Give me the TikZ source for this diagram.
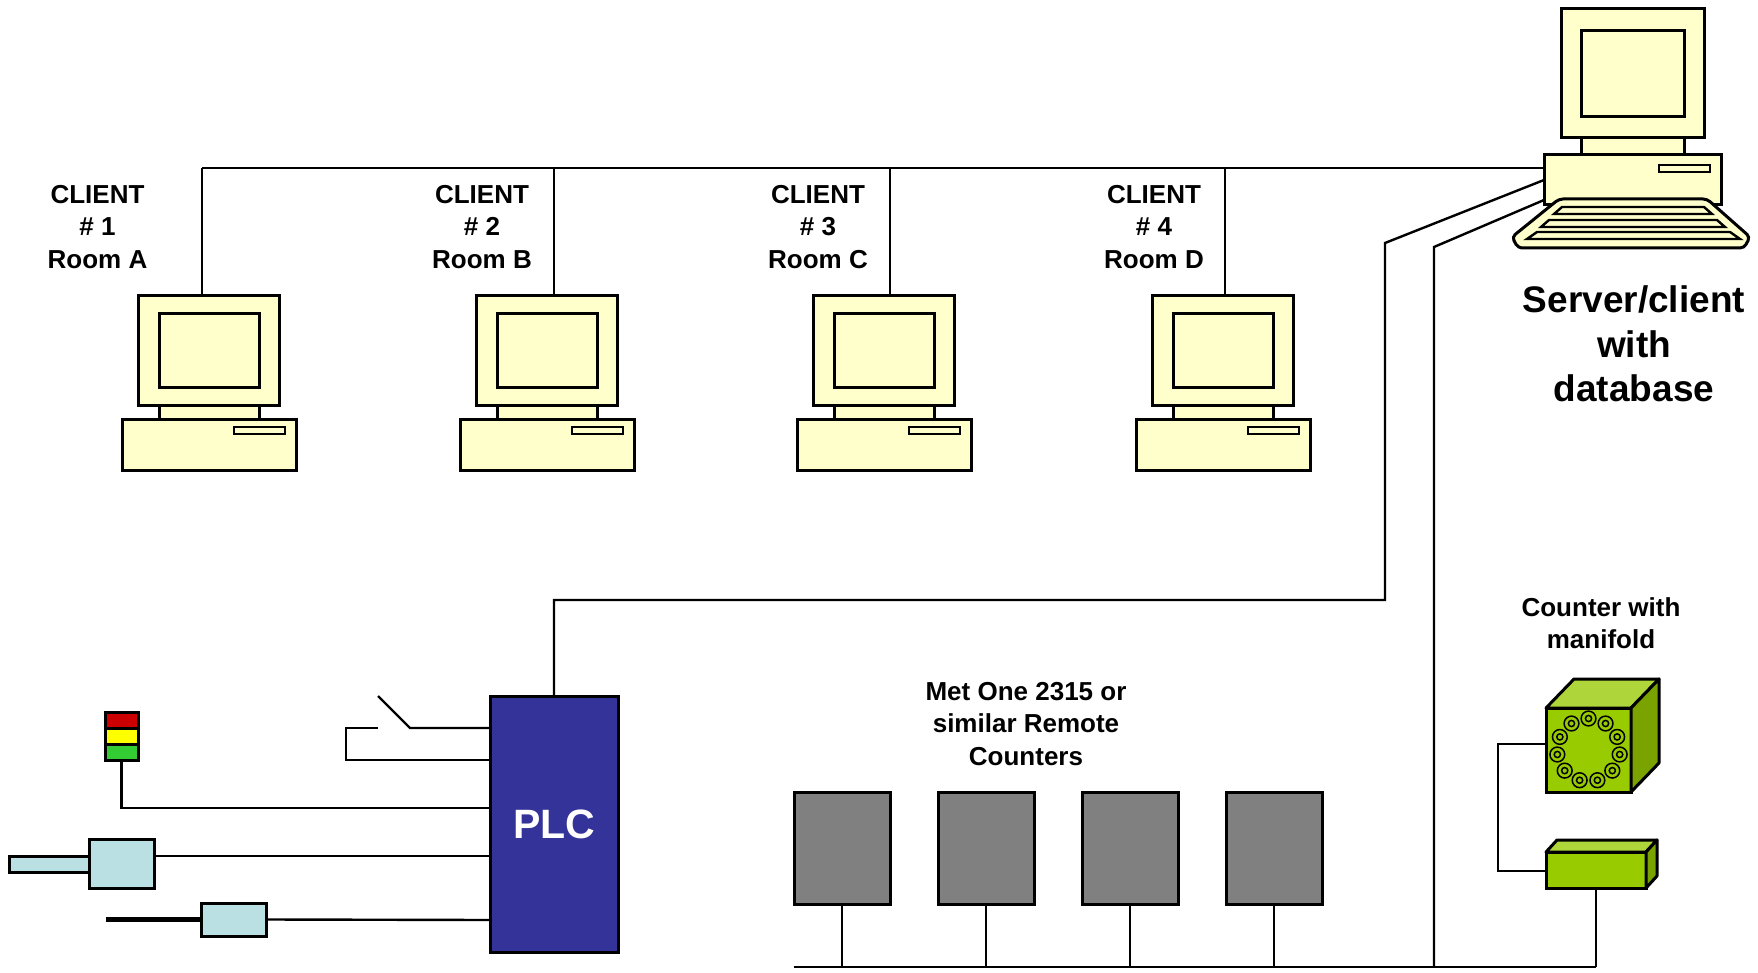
\documentclass[tikz,border=0pt]{standalone}
\usepackage{fontspec}
\setmainfont{Liberation Sans}

\definecolor{pcyellow}{HTML}{FFFFCC}
\definecolor{plcblue}{HTML}{333399}
\definecolor{sensorblue}{HTML}{BBE0E3}
\definecolor{countergray}{HTML}{808080}
\definecolor{tred}{HTML}{CC0000}
\definecolor{tyellow}{HTML}{FFFF00}
\definecolor{tgreen}{HTML}{33CC33}
\definecolor{mfront}{HTML}{99CC00}
\definecolor{mtop}{HTML}{AED63A}
\definecolor{mside}{HTML}{7AA300}

\tikzset{
  blk/.style={draw, line width=3pt, anchor=north west, inner sep=0pt, outer sep=0pt},
  pcbox/.style={blk, fill=pcyellow},
  lbl/.style={align=center, font=\fontsize{26}{32.5}\selectfont\bfseries},
  donut/.style={draw, line width=1.5pt, fill=countergray},
  pc/.pic={
    \node[pcbox, minimum width=141pt, minimum height=109pt] (-mon) at (0,0) {};
    \node[pcbox, minimum width=100pt, minimum height=73pt] (-scr) at (21,18) {};
    \node[pcbox, minimum width=100pt, minimum height=14pt] (-neck) at (21,109) {};
    \node[pcbox, minimum width=174pt, minimum height=51pt] (-base) at (-16,123) {};
    \node[pcbox, line width=2.4pt, minimum width=51pt, minimum height=7pt] (-slot) at (96,131) {};
  }
}

\begin{document}
\begin{tikzpicture}[x=1pt, y=-1pt, line width=2.4pt]
  \useasboundingbox (0,0) rectangle (1758,973);

  % clients
  \pic (c1) at (138,296) {pc};
  \pic (c2) at (476,296) {pc};
  \pic (c3) at (813,296) {pc};
  \pic (c4) at (1152,296) {pc};
  \node[lbl] (c1-lbl) at (97.5,227) {CLIENT\\\# 1\\Room A};
  \node[lbl] (c2-lbl) at (482,227) {CLIENT\\\# 2\\Room B};
  \node[lbl] (c3-lbl) at (818,227) {CLIENT\\\# 3\\Room C};
  \node[lbl] (c4-lbl) at (1154,227) {CLIENT\\\# 4\\Room D};

  % server
  \node[pcbox, minimum width=143pt, minimum height=129pt] (srv-mon) at (1561,9) {};
  \node[pcbox, minimum width=103pt, minimum height=86pt] (srv-scr) at (1581,31) {};
  \node[pcbox, minimum width=103pt, minimum height=17pt] (srv-neck) at (1581,138) {};
  \node[pcbox, minimum width=177pt, minimum height=50pt] (srv-base) at (1544,155) {};
  \node[pcbox, line width=2.4pt, minimum width=51pt, minimum height=7pt] (srv-slot) at (1659,165) {};
  \draw[fill=pcyellow, line width=3pt, rounded corners=4pt]
    (1559,199) -- (1707,199) -- (1750,237) -- (1744,248) -- (1518,248) -- (1512,237) -- cycle;
  \draw[fill=pcyellow] (1562,207) -- (1704,207) -- (1712,214) -- (1554,214) -- cycle;
  \draw[fill=pcyellow] (1549,220) -- (1717,220) -- (1725,227) -- (1541,227) -- cycle;
  \draw[fill=pcyellow] (1537,232) -- (1730,232) -- (1740,239) -- (1527,239) -- cycle;
  \node[align=center, font=\fontsize{37}{44.5}\selectfont\bfseries] (srv-lbl) at (1634,344)
    {Server/client\\with\\database};

  % network to the clients
  \coordinate (t1) at (202,168);
  \coordinate (t2) at (554,168);
  \coordinate (t3) at (890,168);
  \coordinate (t4) at (1225,168);
  \draw (t1) -- (t1 -| srv-base.west);
  \draw (t1) -- (t1 |- c1-mon.north);
  \draw (t2) -- (t2 |- c2-mon.north);
  \draw (t3) -- (t3 |- c3-mon.north);
  \draw (t4) -- (t4 |- c4-mon.north);

  % PLC and its inputs
  \node[blk, fill=plcblue, minimum width=128pt, minimum height=256pt] (plc) at (490,696) {};
  \node[text=white, font=\fontsize{41}{49}\selectfont\bfseries] (plc-lbl) at (plc.center) {PLC};

  \node[blk, fill=tred, minimum width=33pt, minimum height=16pt] (lr) at (105,712) {};
  \node[blk, fill=tyellow, minimum width=33pt, minimum height=16pt] (ly) at (105,728) {};
  \node[blk, fill=tgreen, minimum width=33pt, minimum height=16pt] (lg) at (105,744) {};

  \node[blk, fill=sensorblue, minimum width=80pt, minimum height=16pt] (ra) at (9,856) {};
  \node[blk, fill=sensorblue, minimum width=65pt, minimum height=49pt] (sa) at (89,839) {};
  \node[blk, fill=sensorblue, minimum width=65pt, minimum height=33pt] (sb) at (201,903) {};
  \coordinate (rod) at (106,919.5);

  \draw ([yshift=-32pt]plc.north west) -- ++(-80,0) -- ++(-32,-32);
  \draw ([yshift=-64pt]plc.north west) -| ++(-144,-32) -- ++(32,0);
  \draw (lg.south) |- ([yshift=-112pt]plc.north west);
  \draw ([yshift=-17pt]sa.north east) -- ([yshift=-160pt]plc.north west);
  \draw (sb.east) -- ([yshift=-224pt]plc.north west);
  \draw[line width=5pt] (rod) -- (sb.west);

  % remote counters
  \node[draw, line width=3pt, fill=countergray, minimum width=96pt, minimum height=112pt, inner sep=0pt] (rc1) at (842,848) {};
  \node[draw, line width=3pt, fill=countergray, minimum width=96pt, minimum height=112pt, inner sep=0pt] (rc2) at (986,848) {};
  \node[draw, line width=3pt, fill=countergray, minimum width=96pt, minimum height=112pt, inner sep=0pt] (rc3) at (1130,848) {};
  \node[draw, line width=3pt, fill=countergray, minimum width=96pt, minimum height=112pt, inner sep=0pt] (rc4) at (1274,848) {};
  \node[lbl] (rc-lbl) at (1026,724) {Met One 2315 or\\similar Remote\\Counters};

  % counter with manifold
  \node[blk, fill=mfront, minimum width=85pt, minimum height=84pt] (cube) at (1546,708) {};
  \draw[fill=mtop, line width=3pt, line join=round] (cube.north west) -- ++(28,-29)
    -- ([shift={(28,-29)}]cube.north east) -- (cube.north east) -- cycle;
  \draw[fill=mside, line width=3pt, line join=round] (cube.north east) -- ++(28,-29)
    -- ([shift={(28,-29)}]cube.south east) -- (cube.south east) -- cycle;
  \foreach \a in {0,...,10}
    \draw[donut] ([shift={(-90+\a*32.727:31.5)}]cube.center) circle (7.4)
      [fill=mfront] ([shift={(-90+\a*32.727:31.5)}]cube.center) circle (3.1);

  \node[blk, fill=mfront, minimum width=100pt, minimum height=36pt] (mb) at (1546,852) {};
  \draw[fill=mtop, line width=3pt, line join=round] (mb.north west) -- ++(11,-12)
    -- ([shift={(11,-12)}]mb.north east) -- (mb.north east) -- cycle;
  \draw[fill=mside, line width=3pt, line join=round] (mb.north east) -- ++(11,-12)
    -- ([shift={(11,-12)}]mb.south east) -- (mb.south east) -- cycle;
  \node[lbl] (man-lbl) at (1601,623) {Counter with\\manifold};

  \coordinate (m1) at (1498,744);
  \coordinate (m2) at (1498,871);
  \draw (cube.west |- m1) -- (m1) -- (m2) -- (mb.west |- m2);

  % counter bus and links to the server
  \coordinate (bus) at (794,967);
  \draw (bus) -- (bus -| mb.south);
  \draw (mb.south) -- (mb.south |- bus);
  \draw (rc1.south) -- (rc1.south |- bus);
  \draw (rc2.south) -- (rc2.south |- bus);
  \draw (rc3.south) -- (rc3.south |- bus);
  \draw (rc4.south) -- (rc4.south |- bus);

  \coordinate (k1) at (1385,243);
  \coordinate (k2) at (1434,247);
  \coordinate (p1) at (1385,600);
  \draw (plc.north) |- (p1) -- (k1) -- (srv-base.west);
  \draw ([yshift=5pt]srv-base.south west) -- (k2) -- (k2 |- bus);
\end{tikzpicture}
\end{document}
